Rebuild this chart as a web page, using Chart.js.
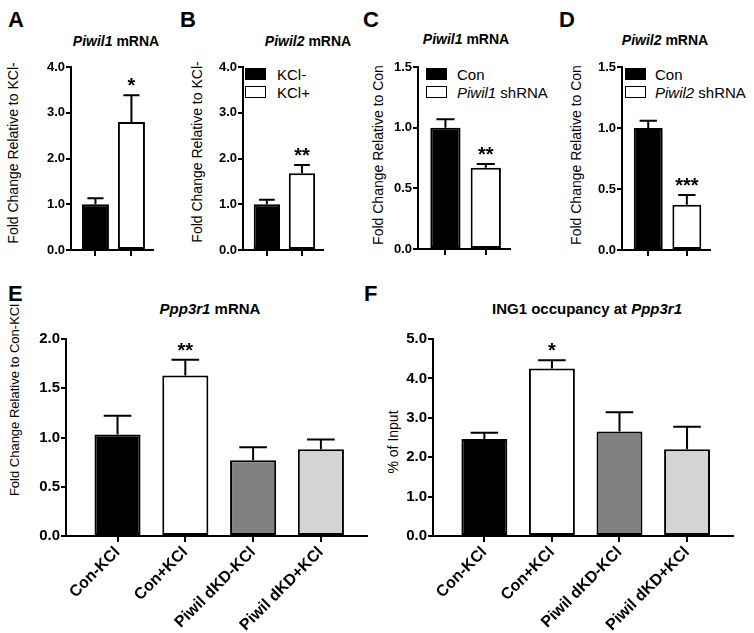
<!DOCTYPE html>
<html>
<head>
<meta charset="utf-8">
<script src="https://cdn.jsdelivr.net/npm/chart.js@4.4.0/dist/chart.umd.min.js"></script>
<style>
  body { margin: 0; background: #fff; width: 754px; height: 633px; position: relative; overflow: hidden;
         font-family: "Liberation Sans", Arial, sans-serif; color: #000; }
  canvas { position: absolute; }
  .letter { position: absolute; font-weight: bold; font-size: 22px; line-height: 1; }
  .title { position: absolute; font-weight: bold; transform: translate(-50%, -50%); white-space: nowrap; }
  .ytitle { position: absolute; font-size: 14px; white-space: nowrap; transform: translate(-50%, -50%) rotate(-90deg); }
  .leg { position: absolute; font-size: 15px; white-space: nowrap; line-height: 1; }
  .sw { position: absolute; width: 21px; height: 12px; border: 1.5px solid #000; box-sizing: border-box; }
</style>
</head>
<body>

<div class="letter" style="left:8px;top:9px">A</div>
<div class="letter" style="left:180px;top:9px">B</div>
<div class="letter" style="left:363px;top:9px">C</div>
<div class="letter" style="left:559px;top:9px">D</div>
<div class="letter" style="left:8px;top:283px">E</div>
<div class="letter" style="left:364px;top:283px">F</div>

<div class="title" style="left:116px;top:41px;font-size:14px"><i>Piwil1</i> mRNA</div>
<div class="title" style="left:308px;top:41px;font-size:14px"><i>Piwil2</i> mRNA</div>
<div class="title" style="left:466px;top:39px;font-size:14px"><i>Piwil1</i> mRNA</div>
<div class="title" style="left:665px;top:40px;font-size:14px"><i>Piwil2</i> mRNA</div>
<div class="title" style="left:210px;top:308px;font-size:15px"><i>Ppp3r1</i> mRNA</div>
<div class="title" style="left:587px;top:308px;font-size:15px">ING1 occupancy at <i>Ppp3r1</i></div>

<div class="ytitle" style="left:13px;top:153px">Fold Change Relative to KCl-</div>
<div class="ytitle" style="left:197px;top:152px">Fold Change Relative to KCl-</div>
<div class="ytitle" style="left:378px;top:155px">Fold Change Relative to Con</div>
<div class="ytitle" style="left:576px;top:155px">Fold Change Relative to Con</div>
<div class="ytitle" style="left:14px;top:400px;font-size:13px">Fold Change Relative to Con-KCl</div>
<div class="ytitle" style="left:393px;top:442px">% of Input</div>

<div class="sw" style="left:245px;top:68px;background:#000"></div>
<div class="sw" style="left:245px;top:86px;background:#fff"></div>
<div class="leg" style="left:277px;top:67px">KCl-</div>
<div class="leg" style="left:277px;top:85px">KCl+</div>

<div class="sw" style="left:426px;top:68px;background:#000"></div>
<div class="sw" style="left:426px;top:86px;background:#fff"></div>
<div class="leg" style="left:457px;top:67px">Con</div>
<div class="leg" style="left:457px;top:85px"><i>Piwil1</i> shRNA</div>

<div class="sw" style="left:625px;top:68px;background:#000"></div>
<div class="sw" style="left:625px;top:86px;background:#fff"></div>
<div class="leg" style="left:655px;top:67px">Con</div>
<div class="leg" style="left:655px;top:85px"><i>Piwil2</i> shRNA</div>

<canvas id="chartA" width="160" height="205" style="left:0px;top:55px"></canvas>
<canvas id="chartB" width="150" height="205" style="left:180px;top:55px"></canvas>
<canvas id="chartC" width="157" height="204" style="left:360px;top:55px"></canvas>
<canvas id="chartD" width="157" height="205" style="left:560px;top:55px"></canvas>
<canvas id="chartE" width="374" height="306" style="left:0px;top:327px"></canvas>
<canvas id="chartF" width="364" height="306" style="left:376px;top:327px"></canvas>

<script>
// panel A: Piwil1 mRNA, KCl- vs KCl+
let kclGroups = ['KCl-', 'KCl+'];
let piwil1KclMean = [1.0, 2.8];
let piwil1KclSem = [0.13, 0.58];
let piwil1KclStars = ['', '*'];

// panel B: Piwil2 mRNA, KCl- vs KCl+
let piwil2KclMean = [1.0, 1.68];
let piwil2KclSem = [0.1, 0.18];
let piwil2KclStars = ['', '**'];

// panel C / D: knockdown
let kdGroups = ['Con', 'shRNA'];
let piwil1KdMean = [1.0, 0.67];
let piwil1KdSem = [0.07, 0.03];
let piwil1KdStars = ['', '**'];
let piwil2KdMean = [1.0, 0.37];
let piwil2KdSem = [0.06, 0.08];
let piwil2KdStars = ['', '***'];

// panel E / F: four conditions
let conditions = ['Con-KCl', 'Con+KCl', 'Piwil dKD-KCl', 'Piwil dKD+KCl'];
let ppp3r1Mean = [1.03, 1.63, 0.77, 0.88];
let ppp3r1Sem = [0.19, 0.16, 0.13, 0.10];
let ppp3r1Stars = ['', '**', '', ''];
let ing1Mean = [2.46, 4.25, 2.65, 2.2];
let ing1Sem = [0.16, 0.21, 0.49, 0.57];
let ing1Stars = ['', '*', '', ''];

let ticksAB = [0, 1, 2, 3, 4];
let ticksCD = [0, 0.5, 1, 1.5];
let ticksE = [0, 0.5, 1, 1.5, 2];
let ticksF = [0, 1, 2, 3, 4, 5];

Chart.defaults.font.family = '"Liberation Sans", Arial, sans-serif';
Chart.defaults.color = '#000';

// upper SEM bars and significance stars
const errorBars = {
  id: 'errbars',
  afterDatasetsDraw(chart, args, opts) {
    let ctx = chart.ctx;
    let meta = chart.getDatasetMeta(0);
    let yScale = chart.scales.y;
    let data = chart.data.datasets[0].data;
    ctx.save();
    ctx.strokeStyle = '#000';
    ctx.fillStyle = '#000';
    ctx.lineWidth = 2;
    meta.data.forEach((bar, i) => {
      let top = yScale.getPixelForValue(data[i].y + opts.sem[i]);
      let half = bar.width * 0.3;
      ctx.beginPath();
      ctx.moveTo(bar.x, bar.y);
      ctx.lineTo(bar.x, top);
      ctx.moveTo(bar.x - half, top);
      ctx.lineTo(bar.x + half, top);
      ctx.stroke();
      if (opts.stars[i]) {
        ctx.font = 'bold 20px "Liberation Sans", Arial, sans-serif';
        ctx.textAlign = 'center';
        ctx.textBaseline = 'alphabetic';
        ctx.fillText(opts.stars[i], bar.x, top - 3);
      }
    });
    ctx.restore();
  }
};

function createPanel(id, p) {
  let ctx = document.getElementById(id).getContext('2d');
  let n = p.labels.length;
  new Chart(ctx, {
    type: 'bar',
    data: {
      datasets: [{
        data: p.mean.map((v, i) => ({ x: i, y: v })),
        backgroundColor: p.colors,
        borderColor: '#000',
        borderWidth: 2,
        borderSkipped: false,
        barPercentage: p.barPct,
        categoryPercentage: 1
      }]
    },
    options: {
      responsive: false,
      animation: false,
      layout: { padding: { left: 0, top: 12, right: 7, bottom: 0 } },
      plugins: {
        legend: { display: false },
        tooltip: { enabled: false },
        errbars: { sem: p.sem, stars: p.stars }
      },
      scales: {
        x: {
          type: 'linear',
          offset: false,
          min: p.xMin,
          max: n - 1 + p.xPad,
          afterBuildTicks: s => { s.ticks = p.labels.map((l, i) => ({ value: i })); },
          afterFit: s => { s.height = p.xH; },
          ticks: {
            display: p.showLabels,
            minRotation: 45,
            maxRotation: 45,
            padding: 1,
            font: { size: 16, weight: 'bold' },
            callback: v => p.labels[v]
          },
          grid: { offset: false, drawOnChartArea: false, color: '#000', lineWidth: 2, tickLength: 6 },
          border: { color: '#000', width: 2 }
        },
        y: {
          min: 0,
          max: p.ticks[p.ticks.length - 1],
          afterBuildTicks: s => { s.ticks = p.ticks.map(v => ({ value: v })); },
          afterFit: s => { s.width = p.yW; },
          ticks: {
            padding: 1,
            font: { size: p.tickSize, weight: 'bold' },
            callback: v => v.toFixed(1)
          },
          grid: { drawOnChartArea: false, color: '#000', lineWidth: 2, tickLength: 5 },
          border: { color: '#000', width: 2 }
        }
      }
    },
    plugins: [errorBars]
  });
}

document.addEventListener('DOMContentLoaded', () => {
  let small = { xMin: -0.68, xPad: 0.6, barPct: 0.75, xH: 10, showLabels: false, tickSize: 13, colors: ['#000', '#fff'] };
  let wide = { xMin: -0.76, xPad: 0.68, barPct: 0.68, xH: 97, showLabels: true, tickSize: 15,
               colors: ['#000', '#fff', '#808080', '#d4d4d4'] };

  createPanel('chartA', { ...small, labels: kclGroups, mean: piwil1KclMean, sem: piwil1KclSem, stars: piwil1KclStars, ticks: ticksAB, yW: 71 });
  createPanel('chartB', { ...small, labels: kclGroups, mean: piwil2KclMean, sem: piwil2KclSem, stars: piwil2KclStars, ticks: ticksAB, yW: 63 });
  createPanel('chartC', { ...small, labels: kdGroups, mean: piwil1KdMean, sem: piwil1KdSem, stars: piwil1KdStars, ticks: ticksCD, yW: 58 });
  createPanel('chartD', { ...small, labels: kdGroups, mean: piwil2KdMean, sem: piwil2KdSem, stars: piwil2KdStars, ticks: ticksCD, yW: 62 });
  createPanel('chartE', { ...wide, labels: conditions, mean: ppp3r1Mean, sem: ppp3r1Sem, stars: ppp3r1Stars, ticks: ticksE, yW: 66 });
  createPanel('chartF', { ...wide, labels: conditions, mean: ing1Mean, sem: ing1Sem, stars: ing1Stars, ticks: ticksF, yW: 57 });
});
</script>
</body>
</html>
